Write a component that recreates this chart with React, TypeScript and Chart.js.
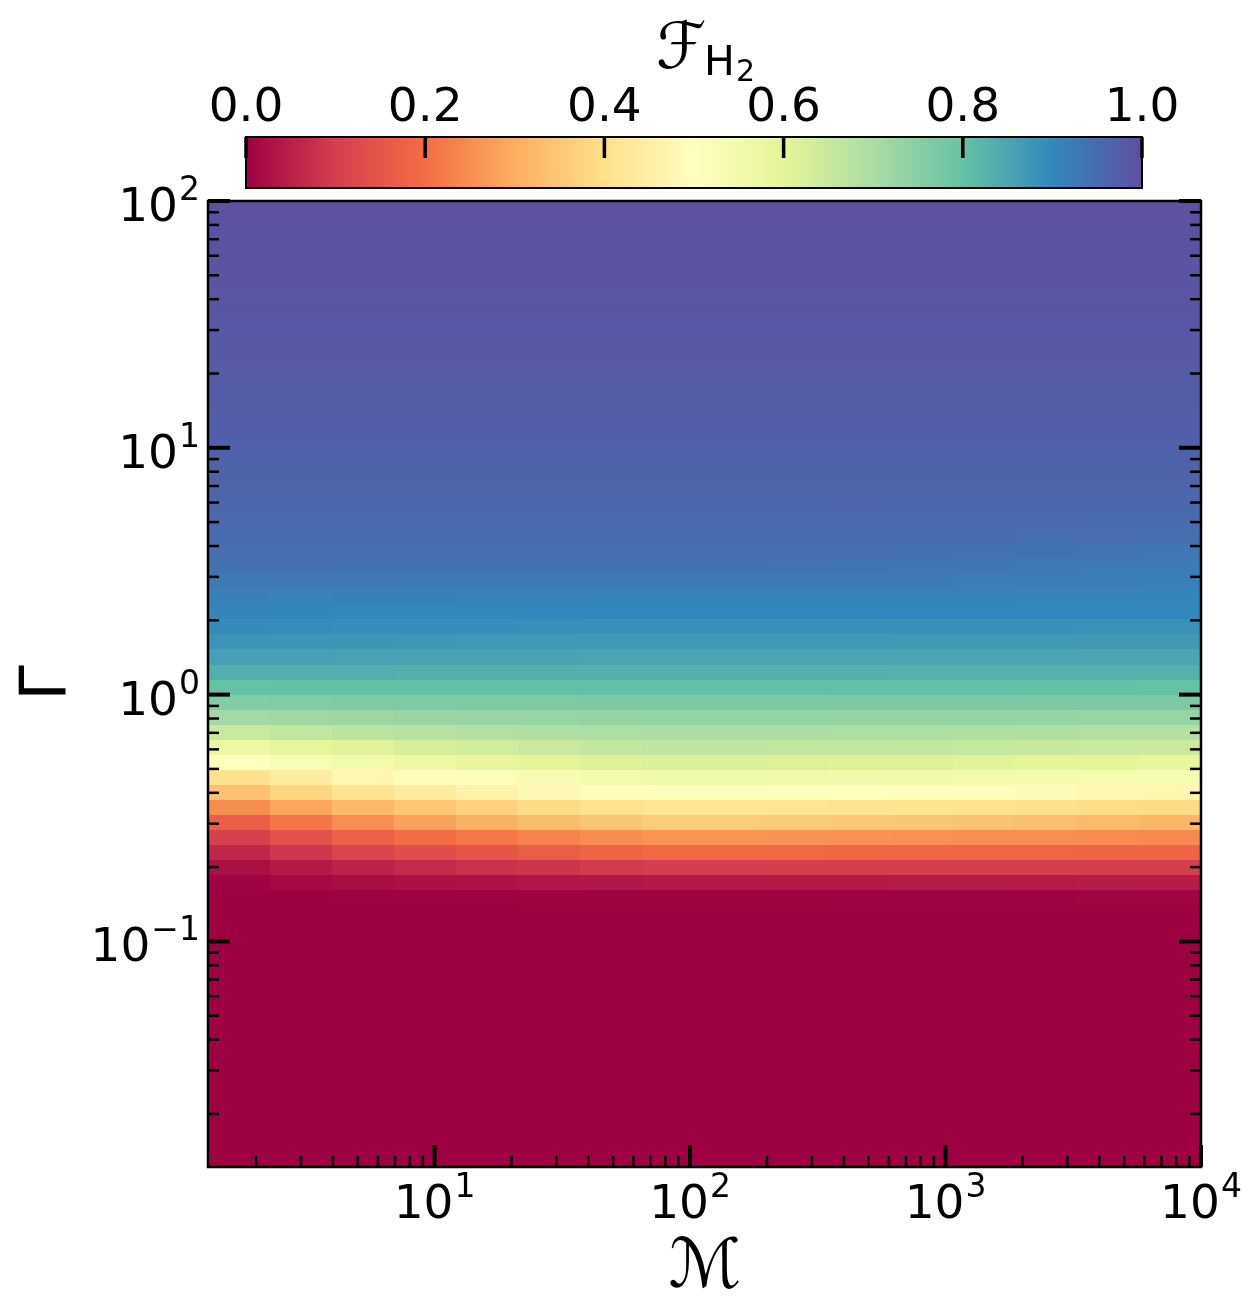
import React, { useEffect, useRef } from "react";
import { Chart, registerables } from "chart.js";

Chart.register(...registerables);

// ---------- data ----------
const MACH_MIN = 1.297;
const MACH_MAX = 10000;
const GAMMA_MIN = 0.01219;
const GAMMA_MAX = 100;

// column edges along the Mach number axis
const MACH_EDGES = [1.297, 2.27, 3.97, 6.95, 12.16, 21.3, 37.2, 65.2, 114, 199.5, 349, 611, 1069, 1871, 3273, 5715, 10000];

// row centres along the Gamma axis (top to bottom)
const GAMMA_CENTERS = [
  96.0, 83.5, 72.5, 63.0, 54.8, 47.6, 41.4, 35.9, 31.2, 27.1, 23.6, 20.5, 17.8, 15.5, 13.4, 11.7,
  10.15, 8.82, 7.66, 6.66, 5.79, 5.03, 4.37, 3.80, 3.30, 2.87, 2.49, 2.17, 1.88, 1.64, 1.42, 1.23,
  1.073, 0.932, 0.810, 0.704, 0.612, 0.531, 0.462, 0.401, 0.349, 0.303, 0.263, 0.229, 0.199, 0.173, 0.150, 0.1305,
  0.1134, 0.0985, 0.0856, 0.0744, 0.0646, 0.0562, 0.0488, 0.0424, 0.0368, 0.0320, 0.0278, 0.0242, 0.0210, 0.0183, 0.0159, 0.0138,
  0.0120,
];

// F_H2 values, one row per Gamma centre (top to bottom), one value per Mach column
const FH2 = [
  [.997,.997,.997,.997,.997,.997,.997,.997,.997,.997,.997,.997,.997,.997,.997,.997],
  [.996,.996,.996,.996,.996,.996,.996,.996,.996,.996,.996,.996,.996,.996,.996,.996],
  [.995,.995,.995,.995,.995,.995,.995,.995,.995,.995,.995,.995,.995,.995,.995,.995],
  [.994,.994,.994,.994,.994,.994,.994,.994,.994,.994,.994,.994,.994,.994,.994,.994],
  [.993,.993,.993,.993,.993,.993,.993,.993,.993,.993,.993,.993,.993,.993,.993,.993],
  [.992,.992,.992,.992,.992,.992,.992,.992,.992,.992,.992,.992,.992,.992,.992,.992],
  [.990,.990,.990,.990,.990,.990,.990,.990,.990,.990,.990,.990,.990,.990,.990,.990],
  [.989,.989,.989,.989,.989,.989,.989,.989,.989,.989,.989,.989,.989,.989,.989,.989],
  [.987,.987,.987,.987,.987,.987,.987,.987,.987,.987,.987,.987,.987,.987,.987,.987],
  [.985,.985,.985,.985,.985,.985,.985,.985,.985,.985,.985,.985,.985,.985,.985,.985],
  [.983,.983,.983,.983,.983,.983,.983,.983,.983,.983,.983,.983,.983,.983,.983,.983],
  [.981,.981,.981,.981,.981,.981,.981,.981,.981,.981,.981,.981,.981,.981,.981,.981],
  [.979,.979,.979,.979,.979,.979,.979,.979,.979,.979,.979,.979,.979,.979,.979,.979],
  [.977,.977,.977,.977,.977,.977,.977,.977,.977,.977,.977,.977,.977,.977,.977,.977],
  [.975,.975,.975,.975,.975,.975,.975,.975,.975,.975,.975,.975,.975,.975,.975,.975],
  [.973,.973,.973,.973,.973,.973,.973,.973,.973,.973,.973,.973,.973,.973,.973,.973],
  [.971,.971,.971,.971,.971,.971,.971,.971,.971,.971,.971,.971,.971,.971,.971,.971],
  [.968,.968,.968,.968,.968,.968,.968,.968,.968,.968,.968,.968,.968,.968,.968,.968],
  [.965,.965,.965,.965,.965,.965,.965,.965,.965,.965,.965,.965,.965,.965,.965,.965],
  [.962,.962,.962,.962,.962,.962,.962,.962,.962,.962,.962,.962,.962,.962,.962,.962],
  [.958,.958,.958,.958,.958,.958,.958,.958,.958,.958,.958,.957,.957,.957,.956,.956],
  [.954,.954,.954,.954,.954,.954,.954,.954,.954,.954,.953,.953,.952,.952,.951,.950],
  [.950,.950,.950,.950,.950,.950,.950,.950,.950,.949,.949,.948,.947,.946,.945,.944],
  [.945,.945,.945,.945,.945,.945,.945,.945,.945,.944,.943,.942,.940,.938,.936,.934],
  [.940,.940,.939,.939,.939,.938,.938,.938,.938,.936,.935,.933,.931,.928,.925,.922],
  [.928,.927,.927,.926,.926,.925,.925,.925,.925,.924,.923,.922,.920,.919,.917,.915],
  [.915,.913,.912,.912,.911,.911,.910,.910,.910,.910,.909,.909,.908,.907,.906,.905],
  [.905,.903,.902,.902,.901,.901,.900,.900,.900,.900,.900,.900,.900,.900,.900,.900],
  [.894,.893,.891,.890,.889,.888,.887,.887,.887,.887,.886,.886,.886,.886,.885,.885],
  [.879,.878,.876,.875,.874,.873,.872,.872,.872,.872,.872,.871,.871,.871,.870,.870],
  [.859,.858,.856,.855,.854,.853,.852,.852,.852,.852,.852,.851,.851,.851,.850,.850],
  [.835,.834,.834,.833,.833,.832,.832,.832,.832,.832,.832,.831,.831,.831,.830,.830],
  [.800,.802,.802,.803,.804,.804,.805,.805,.805,.805,.804,.804,.803,.802,.801,.800],
  [.761,.763,.765,.766,.767,.768,.769,.770,.770,.770,.770,.770,.770,.770,.770,.770],
  [.713,.718,.722,.726,.729,.731,.733,.735,.735,.735,.734,.734,.733,.732,.731,.730],
  [.651,.662,.671,.679,.686,.691,.696,.700,.700,.699,.697,.696,.693,.691,.688,.685],
  [.571,.592,.610,.625,.638,.648,.658,.665,.665,.663,.661,.659,.656,.653,.649,.645],
  [.503,.529,.552,.571,.586,.599,.611,.620,.620,.617,.614,.611,.607,.602,.596,.590],
  [.407,.441,.472,.495,.516,.533,.548,.560,.560,.558,.555,.553,.549,.545,.540,.535],
  [.339,.377,.411,.438,.461,.480,.497,.510,.510,.506,.502,.498,.492,.486,.478,.470],
  [.249,.287,.321,.348,.371,.390,.407,.420,.420,.417,.414,.411,.407,.402,.396,.390],
  [.171,.213,.251,.280,.305,.326,.345,.360,.360,.356,.351,.347,.340,.333,.324,.315],
  [.107,.141,.172,.195,.216,.233,.248,.260,.260,.259,.257,.256,.253,.251,.248,.245],
  [.060,.089,.115,.135,.152,.167,.180,.190,.190,.189,.188,.187,.186,.184,.182,.180],
  [.024,.041,.056,.068,.078,.086,.094,.100,.100,.100,.100,.100,.100,.100,.100,.100],
  [.004,.012,.019,.025,.030,.034,.037,.040,.040,.041,.041,.042,.042,.043,.044,.045],
  [0,0,.001,.002,.002,.003,.003,.003,.003,.003,.004,.004,.004,.004,.005,.005],
  [0,0,0,0,0,0,0,0,0,0,0,0,0,0,0,0],
  [0,0,0,0,0,0,0,0,0,0,0,0,0,0,0,0],
  [0,0,0,0,0,0,0,0,0,0,0,0,0,0,0,0],
  [0,0,0,0,0,0,0,0,0,0,0,0,0,0,0,0],
  [0,0,0,0,0,0,0,0,0,0,0,0,0,0,0,0],
  [0,0,0,0,0,0,0,0,0,0,0,0,0,0,0,0],
  [0,0,0,0,0,0,0,0,0,0,0,0,0,0,0,0],
  [0,0,0,0,0,0,0,0,0,0,0,0,0,0,0,0],
  [0,0,0,0,0,0,0,0,0,0,0,0,0,0,0,0],
  [0,0,0,0,0,0,0,0,0,0,0,0,0,0,0,0],
  [0,0,0,0,0,0,0,0,0,0,0,0,0,0,0,0],
  [0,0,0,0,0,0,0,0,0,0,0,0,0,0,0,0],
  [0,0,0,0,0,0,0,0,0,0,0,0,0,0,0,0],
  [0,0,0,0,0,0,0,0,0,0,0,0,0,0,0,0],
  [0,0,0,0,0,0,0,0,0,0,0,0,0,0,0,0],
  [0,0,0,0,0,0,0,0,0,0,0,0,0,0,0,0],
  [0,0,0,0,0,0,0,0,0,0,0,0,0,0,0,0],
  [0,0,0,0,0,0,0,0,0,0,0,0,0,0,0,0],
];

const X_MAJOR_TICKS = [10, 100, 1000, 10000];
const Y_MAJOR_TICKS = [0.1, 1, 10, 100];
const CBAR_TICKS = [0.0, 0.2, 0.4, 0.6, 0.8, 1.0];
const CBAR_MIN = 0;
const CBAR_MAX = 1;

// ---------- style ----------
const FONT = "'DejaVu Sans', sans-serif";
const SPECTRAL = [
  [158, 1, 66], [213, 62, 79], [244, 109, 67], [253, 174, 97], [254, 224, 139], [255, 255, 191],
  [230, 245, 152], [171, 221, 164], [102, 194, 165], [50, 136, 189], [94, 79, 162],
];

function cmap(v: number): string {
  const t = Math.max(0, Math.min(1, (v - CBAR_MIN) / (CBAR_MAX - CBAR_MIN))) * 10;
  const i = Math.min(9, Math.floor(t));
  const f = t - i;
  const a = SPECTRAL[i];
  const b = SPECTRAL[i + 1];
  const c = [0, 1, 2].map((k) => Math.round(a[k] + (b[k] - a[k]) * f));
  return `rgb(${c[0]},${c[1]},${c[2]})`;
}

function expText(v: number): string {
  const e = Math.round(Math.log10(v));
  return e < 0 ? "\u2212" + String(-e) : String(e);
}

const heatmapPlugin = {
  id: "heatmap",
  beforeDatasetsDraw(chart: any) {
    const { ctx, chartArea: ca, scales } = chart;
    const xs = scales.x;
    const ys = scales.y;
    const g = GAMMA_CENTERS;
    const edges: number[] = [];
    edges.push((g[0] * g[0]) / g[1]);
    for (let i = 0; i < g.length - 1; i++) edges.push(Math.sqrt(g[i] * g[i + 1]));
    edges.push((g[g.length - 1] * g[g.length - 1]) / g[g.length - 2]);
    ctx.save();
    ctx.beginPath();
    ctx.rect(ca.left, ca.top, ca.right - ca.left, ca.bottom - ca.top);
    ctx.clip();
    for (let r = 0; r < g.length; r++) {
      const y0 = Math.round(ys.getPixelForValue(edges[r]));
      const y1 = Math.round(ys.getPixelForValue(edges[r + 1]));
      for (let c = 0; c < MACH_EDGES.length - 1; c++) {
        const x0 = Math.round(xs.getPixelForValue(MACH_EDGES[c]));
        const x1 = Math.round(xs.getPixelForValue(MACH_EDGES[c + 1]));
        ctx.fillStyle = cmap(FH2[r][c]);
        ctx.fillRect(x0, y0, x1 - x0, y1 - y0);
      }
    }
    ctx.restore();
  },
};

const framePlugin = {
  id: "frame",
  afterDraw(chart: any) {
    const { ctx, chartArea: ca, scales } = chart;
    const xs = scales.x;
    const ys = scales.y;
    ctx.save();
    ctx.strokeStyle = "#000";
    ctx.fillStyle = "#000";
    ctx.lineCap = "butt";
    const line = (x0: number, y0: number, x1: number, y1: number, w: number) => {
      ctx.lineWidth = w;
      ctx.beginPath();
      ctx.moveTo(x0, y0);
      ctx.lineTo(x1, y1);
      ctx.stroke();
    };
    const MAJ_LEN = 22, MIN_LEN = 11, MAJ_W = 4, MIN_W = 2.5;
    // y ticks (left & right, inward)
    for (let n = -2; n <= 2; n++) {
      for (let m = 1; m <= 9; m++) {
        const v = m * Math.pow(10, n);
        if (v < GAMMA_MIN * 0.9999 || v > GAMMA_MAX * 1.0001) continue;
        const py = ys.getPixelForValue(v);
        const major = m === 1;
        const len = major ? MAJ_LEN : MIN_LEN;
        const w = major ? MAJ_W : MIN_W;
        line(ca.left, py, ca.left + len, py, w);
        line(ca.right, py, ca.right - len, py, w);
      }
    }
    // x ticks (bottom, inward)
    for (let n = 0; n <= 4; n++) {
      for (let m = 1; m <= 9; m++) {
        const v = m * Math.pow(10, n);
        if (v < MACH_MIN * 0.9999 || v > MACH_MAX * 1.0001) continue;
        const px = xs.getPixelForValue(v);
        const major = m === 1;
        line(px, ca.bottom, px, ca.bottom - (major ? MAJ_LEN : MIN_LEN), major ? MAJ_W : MIN_W);
      }
    }
    // frame
    ctx.lineWidth = 2.5;
    ctx.strokeRect(ca.left, ca.top, ca.right - ca.left, ca.bottom - ca.top);

    // tick labels
    const BASE = "47px " + FONT;
    const SUP = "33px " + FONT;
    ctx.textBaseline = "alphabetic";
    ctx.textAlign = "left";
    for (const v of Y_MAJOR_TICKS) {
      const py = ys.getPixelForValue(v);
      const e = expText(v);
      ctx.font = SUP;
      const ws = ctx.measureText(e).width;
      ctx.font = BASE;
      const wb = ctx.measureText("10").width;
      const right = ca.left - 8;
      const base = py + 20;
      ctx.font = BASE;
      ctx.fillText("10", right - ws - wb - 1, base);
      ctx.font = SUP;
      ctx.fillText(e, right - ws, base - 21);
    }
    for (const v of X_MAJOR_TICKS) {
      const px = xs.getPixelForValue(v);
      const e = expText(v);
      ctx.font = SUP;
      const ws = ctx.measureText(e).width;
      ctx.font = BASE;
      const wb = ctx.measureText("10").width;
      const start = px - (wb + ws + 1) / 2;
      const base = ca.bottom + 51;
      ctx.font = BASE;
      ctx.fillText("10", start, base);
      ctx.font = SUP;
      ctx.fillText(e, start + wb + 1, base - 21);
    }

    // axis titles
    ctx.textAlign = "center";
    ctx.font = "68px " + FONT;
    ctx.fillText("\u2133", (ca.left + ca.right) / 2, 1287);
    ctx.save();
    ctx.translate(66, (ca.top + ca.bottom) / 2 - 1);
    ctx.rotate(-Math.PI / 2);
    ctx.font = "64px " + FONT;
    ctx.fillText("\u0393", 0, 0);
    ctx.restore();

    // colour bar
    const cbL = 246, cbR = 1142, cbT = 137, cbB = 188;
    const grad = ctx.createLinearGradient(cbL, 0, cbR, 0);
    SPECTRAL.forEach((c, i) => grad.addColorStop(i / (SPECTRAL.length - 1), `rgb(${c[0]},${c[1]},${c[2]})`));
    ctx.fillStyle = grad;
    ctx.fillRect(cbL, cbT, cbR - cbL, cbB - cbT);
    ctx.fillStyle = "#000";
    ctx.lineWidth = 2;
    ctx.strokeRect(cbL, cbT, cbR - cbL, cbB - cbT);
    ctx.font = BASE;
    ctx.textAlign = "center";
    for (const t of CBAR_TICKS) {
      const px = cbL + ((t - CBAR_MIN) / (CBAR_MAX - CBAR_MIN)) * (cbR - cbL);
      line(px, cbT, px, cbT + 21, 3.5);
      ctx.fillText(t.toFixed(1), px, 121);
    }
    // colour bar title  F_{H_2}
    ctx.textAlign = "left";
    ctx.font = "64px " + FONT;
    ctx.fillText("\u2131", 656, 68);
    ctx.font = "41px " + FONT;
    ctx.fillText("H", 704, 75);
    ctx.font = "30px " + FONT;
    ctx.fillText("2", 736, 81);
    ctx.restore();
  },
};

export default function App() {
  const ref = useRef<HTMLCanvasElement | null>(null);
  useEffect(() => {
    const canvas = ref.current;
    if (!canvas) return;
    const chart = new Chart(canvas, {
      type: "scatter",
      data: { datasets: [] },
      options: {
        animation: false,
        responsive: false,
        devicePixelRatio: 1,
        layout: { padding: { left: 208, top: 201, right: 57, bottom: 147 } },
        plugins: { legend: { display: false }, tooltip: { enabled: false } },
        scales: {
          x: { type: "logarithmic", min: MACH_MIN, max: MACH_MAX, display: false },
          y: { type: "logarithmic", min: GAMMA_MIN, max: GAMMA_MAX, display: false },
        },
      } as any,
      plugins: [heatmapPlugin, framePlugin],
    });
    return () => chart.destroy();
  }, []);
  return (
    <div style={{ position: "absolute", left: 0, top: 0, width: 1258, height: 1314, background: "#fff" }}>
      <canvas ref={ref} width={1258} height={1314} style={{ width: 1258, height: 1314, display: "block" }} />
    </div>
  );
}
